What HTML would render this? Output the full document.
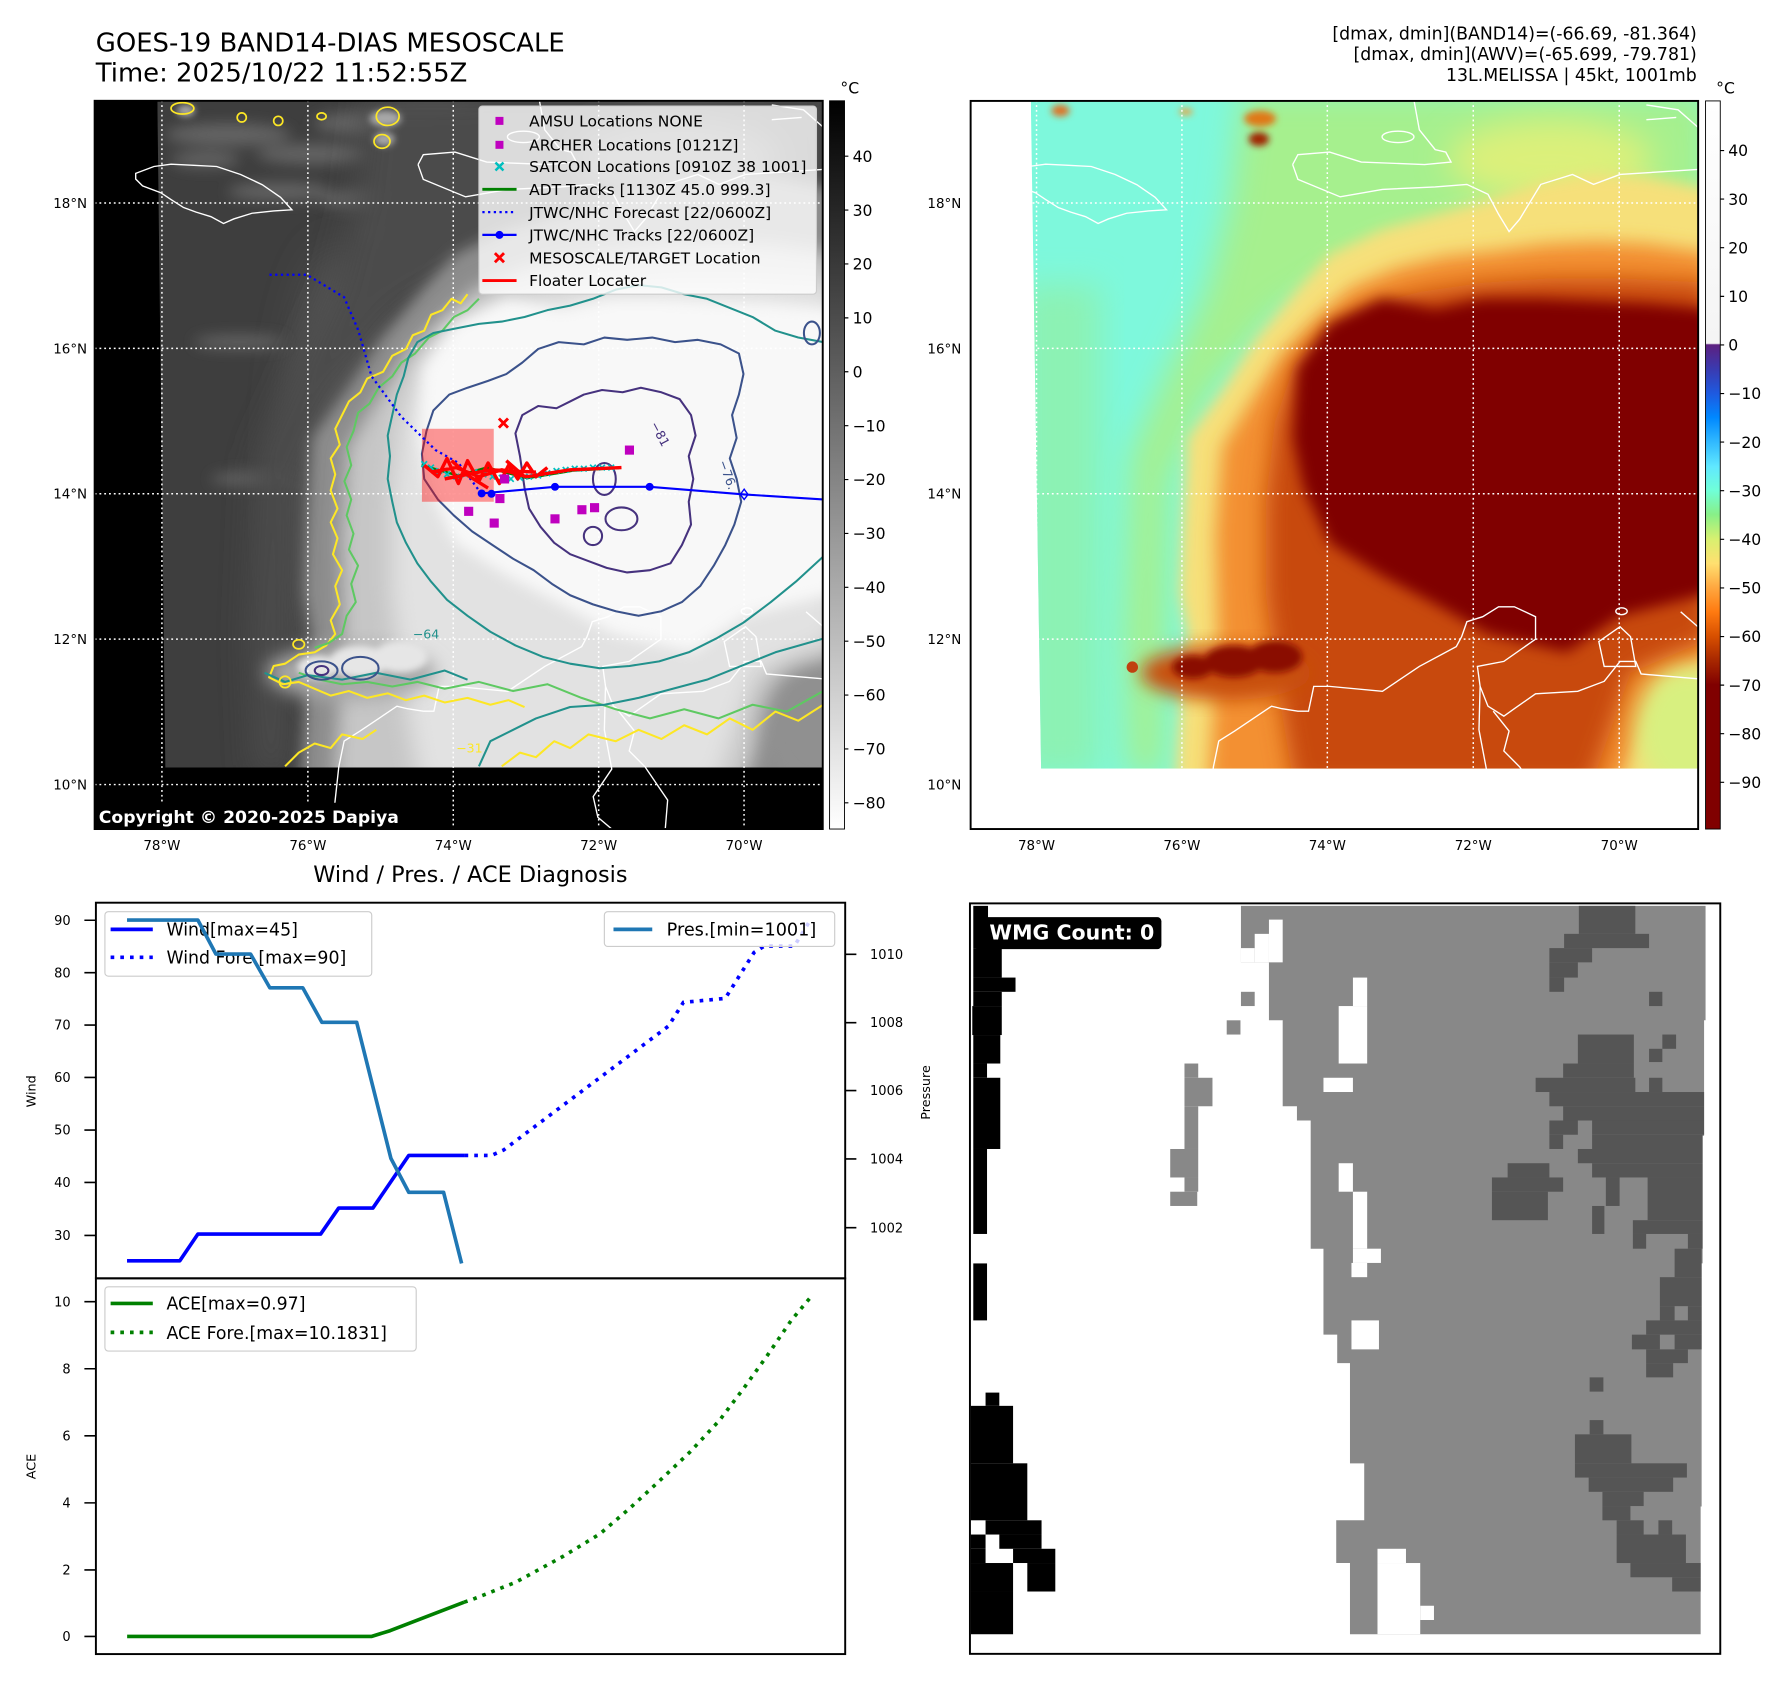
<!DOCTYPE html>
<html><head><meta charset="utf-8"><style>html,body{margin:0;padding:0;background:#fff;overflow:hidden;}svg{display:block;}</style></head>
<body>
<svg xmlns="http://www.w3.org/2000/svg" width="1788" height="1690" viewBox="0 0 1568 1482" preserveAspectRatio="none" font-family="'DejaVu Sans','Liberation Sans',sans-serif">
<defs>
<clipPath id="cl"><rect x="83" y="88.4" width="638.5" height="638.6"/></clipPath>
<clipPath id="cr"><rect x="851.2" y="88.5" width="638" height="638.5"/></clipPath>
<clipPath id="dl"><polygon points="138,88.4 721.5,88.4 721.5,673 145,673"/></clipPath>
<clipPath id="dr"><polygon points="904,88.5 1489.2,88.5 1489.2,674 913,674"/></clipPath>
<filter id="f3" x="-30%" y="-30%" width="160%" height="160%"><feGaussianBlur stdDeviation="3"/></filter>
<filter id="f6" x="-30%" y="-30%" width="160%" height="160%"><feGaussianBlur stdDeviation="6"/></filter>
<filter id="f8" x="-30%" y="-30%" width="160%" height="160%"><feGaussianBlur stdDeviation="8"/></filter>
<filter id="f10" x="-30%" y="-30%" width="160%" height="160%"><feGaussianBlur stdDeviation="10"/></filter>
<filter id="f14" x="-30%" y="-30%" width="160%" height="160%"><feGaussianBlur stdDeviation="14"/></filter>
<filter id="f20" x="-50%" y="-50%" width="200%" height="200%"><feGaussianBlur stdDeviation="20"/></filter>
<linearGradient id="cbl" x1="0" y1="0" x2="0" y2="1"><stop offset="0" stop-color="#000"/><stop offset="1" stop-color="#fff"/></linearGradient>
<linearGradient id="cbr" x1="0" y1="0" x2="0" y2="1">
<stop offset="0" stop-color="#ffffff"/><stop offset="0.333" stop-color="#f4f4f4"/>
<stop offset="0.335" stop-color="#5c2080"/><stop offset="0.368" stop-color="#3a3ab0"/>
<stop offset="0.402" stop-color="#1e5ae0"/><stop offset="0.435" stop-color="#0088ff"/>
<stop offset="0.468" stop-color="#30b8ff"/><stop offset="0.502" stop-color="#60e8ff"/>
<stop offset="0.535" stop-color="#70ffd8"/><stop offset="0.568" stop-color="#88f088"/>
<stop offset="0.602" stop-color="#d8f070"/><stop offset="0.635" stop-color="#ffe070"/>
<stop offset="0.668" stop-color="#ffa840"/><stop offset="0.702" stop-color="#ff7a10"/>
<stop offset="0.735" stop-color="#d85000"/><stop offset="0.768" stop-color="#a82800"/>
<stop offset="0.802" stop-color="#800000"/><stop offset="1" stop-color="#800000"/>
</linearGradient>
</defs>

<!-- Titles -->
<text x="84" y="45.3" font-size="22.7" fill="#000">GOES-19 BAND14-DIAS MESOSCALE</text>
<text x="84" y="71.6" font-size="22.7" fill="#000">Time: 2025/10/22 11:52:55Z</text>
<g font-size="15.2" fill="#000" text-anchor="end">
<text x="1488" y="34.5">[dmax, dmin](BAND14)=(-66.69, -81.364)</text>
<text x="1488" y="52.6">[dmax, dmin](AWV)=(-65.699, -79.781)</text>
<text x="1488" y="71">13L.MELISSA | 45kt, 1001mb</text>
</g>

<!-- ============ LEFT PANEL ============ -->
<g clip-path="url(#cl)">
<rect x="83" y="88.4" width="638.5" height="638.6" fill="#000"/>
<g clip-path="url(#dl)">
<rect x="130" y="80" width="600" height="600" fill="#3e3e3e"/>
<ellipse cx="300" cy="420" rx="45" ry="200" fill="#5a5a5a" filter="url(#f20)"/>
<g fill="#646464" filter="url(#f6)">
<ellipse cx="200" cy="118" rx="55" ry="10"/><ellipse cx="275" cy="135" rx="50" ry="9"/>
<ellipse cx="330" cy="108" rx="55" ry="11"/><ellipse cx="380" cy="100" rx="40" ry="8"/>
<ellipse cx="245" cy="168" rx="45" ry="8"/><ellipse cx="330" cy="175" rx="50" ry="9"/>
<ellipse cx="360" cy="205" rx="40" ry="10"/><ellipse cx="180" cy="140" rx="30" ry="7"/>
<ellipse cx="210" cy="300" rx="40" ry="6"/><ellipse cx="220" cy="420" rx="35" ry="6"/>
</g>
<g transform="translate(-767,0)">
<path d="M1090,80 L1500,80 L1500,205 L1300,200 L1200,228 L1120,275 L1060,345 L1025,420 L1020,680 L990,680 L985,560 L992,400 L1025,325 L1058,255 L1078,180 Z" fill="#4c4c4c" filter="url(#f14)"/>
<ellipse cx="1360" cy="140" rx="90" ry="35" fill="#767676" filter="url(#f14)"/>
<path d="M1030,690 L1036,600 L1041,558 L1034,520 L1036,471 L1041,384 L1073,340 L1101,297 L1138,253 L1166,223 L1212,201 L1259,188 L1305,175 L1351,160 L1397,152 L1444,155 L1500,166 L1500,690 Z" fill="#8c8c8c" filter="url(#f6)"/>
<path d="M1060,690 L1068,560 L1066,470 L1072,392 L1098,350 L1124,310 L1155,278 L1185,252 L1225,235 L1266,225 L1312,220 L1356,214 L1400,212 L1444,214 L1500,222 L1500,575 L1458,598 L1418,690 Z" fill="#c6c6c6" filter="url(#f8)"/>
<path d="M1135,690 L1120,600 L1110,520 L1110,440 L1118,370 L1135,320 L1162,290 L1200,268 L1245,256 L1300,248 L1360,244 L1420,244 L1500,248 L1500,560 L1430,590 L1395,690 Z" fill="#e2e2e2" filter="url(#f10)"/>
<path d="M1138,323 L1166,284 L1212,262 L1259,271 L1300,262 L1351,262 L1444,266 L1500,271 L1500,520 L1421,540 L1374,572 L1305,556 L1259,530 L1212,505 L1166,476 L1143,428 L1134,384 Z" fill="#f8f8f8" filter="url(#f6)"/>
<ellipse cx="1075" cy="590" rx="75" ry="24" fill="#a8a8a8" filter="url(#f8)"/>
<g fill="#e6e6e6" filter="url(#f3)">
<ellipse cx="1046" cy="585" rx="18" ry="10"/><ellipse cx="1082" cy="580" rx="26" ry="14"/><ellipse cx="1118" cy="576" rx="24" ry="14"/>
</g>
<ellipse cx="1480" cy="640" rx="45" ry="55" fill="#909090" filter="url(#f10)"/>
<g fill="#a8a8a8" filter="url(#f3)">
<ellipse cx="1105" cy="104" rx="14" ry="7"/><ellipse cx="1104" cy="122" rx="9" ry="6"/><ellipse cx="930" cy="97" rx="8" ry="5"/>
</g>
</g>
</g>
<!-- gridlines -->
<g stroke="#fff" stroke-width="1.3" stroke-dasharray="1.6 2.6" fill="none">
<path d="M142,88 V727 M270,88 V727 M397.5,88 V727 M525,88 V727 M652.5,88 V727"/>
<path d="M83,178 H722 M83,305.5 H722 M83,433 H722 M83,560.5 H722 M83,688 H722"/>
</g>
<!-- coastlines -->
<g stroke="#fff" stroke-width="1.2" fill="none">
<path d="M119,152 L135,146 L150,144 L170,145 L190,146 L211,153 L230,162 L246,173 L256,184 L240,185 L221,187 L205,192 L196,196 L185,190 L172,186 L161,182 L150,175 L141,169 L125,163 L119,157 Z"/>
<path d="M366.6,144.3 L371.2,135.6 L399,133.4 L426.8,142.1 L482.3,144.3 L505.5,142.1 L500.9,133.4 L491.6,131.2 L477.7,113.8 L473,88"/>
<path d="M366.6,144.3 L371.2,157.3 L408.3,172.6 L445.3,166.1 L491.6,163.9 L519.4,161.7 L537.9,170.4 L547.2,187.9 L556.4,203.1 L565.7,192.2 L584.2,161.7 L612,153 L630.5,161.7 L653.7,153 L722,148.6"/>
<ellipse cx="459" cy="120" rx="14" ry="5"/>
<path d="M676.8,92 L704.6,96.3 L722,111.6 M676.8,105 L703,103"/>
<path d="M722,595.3 L672.2,591 L667.5,580 L653.7,580 L639.8,597.5 L616.6,606.2 L579.6,608.4 L561,621.5 L551.8,628 L537.9,619.3 L531,601.9 L528.6,584.4 L551.8,580 L579.6,560.5 L579.6,540.8 L561,532.1 L547.2,532.1 L533.3,540.8 L519.4,545.2 L514.8,558.3 L510.1,567 L477.7,584.4 L445.3,606.2 L399,601.9 L385.1,601.9 L380.5,623.7 L371.2,623.7 L357.3,621.5 L348.1,619.3 L315.7,641.1 L301.8,649.8 L297.1,672.5 L293.6,704.6"/>
<path d="M542.5,623.7 L556.4,641.1 L551.8,658.5 L565.7,672.5 L585.5,701.6 L583.4,727"/>
<path d="M531,601.9 L530,640 L536.5,674.4 L520.2,698.6 L524.3,716.7 L536.5,727"/>
<path d="M653.7,549.6 L635.1,562.6 L639.8,584.4 L667.5,584.4 L662.9,558.3 Z"/>
<ellipse cx="655" cy="536" rx="5" ry="3"/>
<path d="M706.9,536.5 L722,549.6"/>
</g>
<!-- contours -->
<g fill="none" stroke-width="1.8" stroke-linejoin="round">
<path stroke="#fde725" d="M410,258 L404,266 L396,262 L388,272 L378,276 L372,290 L362,294 L356,306 L344,312 L336,326 L322,332 L316,344 L306,352 L300,364 L294,376 L298,390 L290,402 L294,416 L290,430 L296,446 L290,458 L296,472 L292,486 L300,500 L294,514 L298,530 L290,544 L294,556 L286,566 L276,572 L262,574 L250,582 L240,584 L236,594 L248,600 L262,598 L276,604 L290,610 L306,606 L322,612 L340,608 L356,614 L372,610 L390,616 L410,612 L430,618 L446,614 L460,620"/>
<path stroke="#fde725" d="M250,672 L262,660 L276,652 L290,656 L300,644 L318,648 L330,640 M440,672 L456,660 L470,664 L486,650 L500,656 L516,644 L540,650 L560,640 L580,648 L600,636 L620,644 L640,630 L660,640 L680,624 L700,632 L722,618"/>
<path stroke="#5ec962" d="M420,262 L410,272 L398,278 L388,290 L376,296 L364,310 L352,318 L344,330 L332,340 L324,354 L314,362 L310,378 L304,392 L308,408 L302,422 L308,438 L304,452 L310,468 L306,482 L314,496 L308,512 L312,528 L304,540 L300,556 L288,564 L276,568 M262,590 L280,596 L300,600 L322,598 L344,602 L366,598 L390,604 L420,598 L450,606 L480,600 L510,612 L540,622 L570,630 L600,622 L630,630 L660,618 L690,624 L722,606"/>
<path stroke="#21918c" d="M722,300 L700,296 L680,290 L660,278 L640,270 L620,262 L600,258 L580,252 L560,250 L540,254 L520,262 L500,268 L480,272 L460,278 L440,282 L420,284 L400,288 L380,292 L366,300 L358,314 L354,330 L348,346 L344,364 L340,382 L342,400 L340,420 L344,440 L348,458 L356,476 L366,494 L378,510 L392,526 L410,540 L430,554 L452,566 L476,576 L500,582 L526,586 L552,584 L578,580 L604,572 L628,560 L652,546 L676,528 L698,510 L722,488"/>
<path stroke="#21918c" d="M420,672 L430,650 L450,640 L470,630 L500,620 L530,618 L560,612 L590,604 L620,596 L650,584 L680,572 L722,560 M232,590 L250,598 L270,592 L300,596 L330,590 L360,596 L390,588 L410,596"/>
<path stroke="#3b528b" d="M372,420 L370,398 L374,378 L380,360 L394,346 L410,340 L428,334 L444,328 L458,318 L472,306 L490,300 L512,302 L530,296 L550,298 L572,296 L592,300 L612,298 L632,302 L648,310 L652,328 L648,346 L642,364 L646,384 L640,402 L646,420 L650,440 L644,460 L636,478 L626,496 L614,514 L598,528 L580,536 L560,540 L540,536 L520,530 L500,522 L484,512 L468,500 L450,490 L432,478 L414,466 L398,452 L384,438 Z"/>
<path stroke="#46327e" d="M456,400 L452,380 L458,364 L472,356 L488,358 L500,352 L512,346 L528,342 L546,344 L562,340 L580,344 L596,350 L606,364 L610,382 L604,400 L608,420 L604,440 L606,460 L598,478 L588,494 L570,500 L550,502 L532,498 L516,492 L500,486 L486,476 L474,462 L464,446 L460,428 Z"/>
<ellipse stroke="#46327e" cx="530" cy="420" rx="10" ry="14"/><ellipse stroke="#46327e" cx="545" cy="455" rx="14" ry="10"/><ellipse stroke="#46327e" cx="520" cy="470" rx="8" ry="8"/>
<ellipse stroke="#3b528b" cx="282" cy="588" rx="14" ry="8"/><ellipse stroke="#3b528b" cx="316" cy="586" rx="16" ry="10"/><ellipse stroke="#46327e" cx="282" cy="588" rx="6" ry="4"/>
<ellipse stroke="#3b528b" cx="712" cy="292" rx="7" ry="10"/>
<g stroke="#fde725" stroke-width="1.5"><ellipse cx="160" cy="95" rx="10" ry="5"/><ellipse cx="212" cy="103" rx="4" ry="4"/><ellipse cx="244" cy="106" rx="4" ry="4"/><ellipse cx="340" cy="102" rx="10" ry="8"/><ellipse cx="335" cy="124" rx="7" ry="6"/><ellipse cx="282" cy="102" rx="4" ry="3"/><ellipse cx="262" cy="565" rx="5" ry="4"/><ellipse cx="250" cy="598" rx="5" ry="5"/></g>
</g>
<g font-size="11">
<text x="570" y="372" fill="#46327e" transform="rotate(62 570 372)">−81</text>
<text x="630" y="405" fill="#3b528b" transform="rotate(70 630 405)">−76.</text>
<text x="362" y="560" fill="#21918c">−64</text>
<text x="400" y="660" fill="#fde725">−31</text>
</g>
<!-- red box + tracks -->
<rect x="370" y="376" width="63" height="64" fill="#ff0000" fill-opacity="0.4"/>
<path d="M236.3,240.9 L269,240.9 L301.7,260.6 L314.2,289.6 L325.8,329.9 L352,365.6 L382,394.7 L402,405.9 L422,432.7" fill="none" stroke="#0000ff" stroke-width="2" stroke-dasharray="2 3"/>
<path d="M422.4,432.7 L486.7,426.9 L569.7,426.9 L652.6,433.6 L722,438" fill="none" stroke="#0000ff" stroke-width="1.8"/>
<g fill="#0000ff"><circle cx="422.4" cy="432.7" r="3.5"/><circle cx="431" cy="433" r="3.5"/><circle cx="486.7" cy="426.9" r="3.5"/><circle cx="569.7" cy="426.9" r="3.5"/></g>
<path d="M652.6,429 L656,433.6 L652.6,438 L649.2,433.6 Z" fill="none" stroke="#0000ff" stroke-width="1.2"/>
<path d="M369.6,408 L402,417 L427,410 L462.6,419.3 L502.8,412.6 L543,410.4" fill="none" stroke="#008000" stroke-width="2.2"/>
<path d="M369.5,404.5l5,5m0,-5l-5,5 M375.5,407.5l5,5m0,-5l-5,5 M382.5,410.5l5,5m0,-5l-5,5 M389.5,413.5l5,5m0,-5l-5,5 M397.5,415.5l5,5m0,-5l-5,5 M405.5,413.5l5,5m0,-5l-5,5 M413.5,411.5l5,5m0,-5l-5,5 M421.5,413.5l5,5m0,-5l-5,5 M429.5,415.5l5,5m0,-5l-5,5 M437.5,416.5l5,5m0,-5l-5,5 M445.5,417.5l5,5m0,-5l-5,5 M453.5,416.5l5,5m0,-5l-5,5 M461.5,415.5l5,5m0,-5l-5,5 M469.5,414.5l5,5m0,-5l-5,5 M477.5,412.5l5,5m0,-5l-5,5 M485.5,410.5l5,5m0,-5l-5,5 M493.5,409.5l5,5m0,-5l-5,5 M501.5,408.5l5,5m0,-5l-5,5 M509.5,408.5l5,5m0,-5l-5,5 M517.5,407.5l5,5m0,-5l-5,5 M525.5,407.5l5,5m0,-5l-5,5 M533.5,407.5l5,5m0,-5l-5,5" stroke="#00bfbf" stroke-width="1.5" fill="none"/>
<path d="M372,408 L384,418 L392,402 L402,424 L410,404 L420,422 L428,406 L438,424 L446,408 L454,420 L462,406 L470,418 L480,410 M378,414 L400,410 L420,418 L440,412 L462,418 L500,412 L545,410 M396,404 L412,418 L428,428 M444,404 L460,418 M390,420 L430,412 L470,414" fill="none" stroke="#ff0000" stroke-width="3" stroke-linejoin="round"/>
<path d="M437.5,367 l8,8 m0,-8 l-8,8" stroke="#ff0000" stroke-width="2.5"/>
<g fill="#bf00bf"><rect x="407" y="444.4" width="8" height="8"/><rect x="429.4" y="454.7" width="8" height="8"/><rect x="434.4" y="433.2" width="8" height="8"/><rect x="438.5" y="416" width="8" height="8"/><rect x="482.7" y="451" width="8" height="8"/><rect x="506.3" y="443" width="8" height="8"/><rect x="517.4" y="441.2" width="8" height="8"/><rect x="548" y="390.7" width="8" height="8"/></g>
</g>
<rect x="83" y="88.4" width="638.5" height="638.6" fill="none" stroke="#000" stroke-width="1.7"/>
<!-- legend left -->
<rect x="420" y="93" width="296" height="165" rx="3" fill="#fff" fill-opacity="0.8" stroke="#cccccc" stroke-width="1"/>
<rect x="434.5" y="102.5" width="7" height="7" fill="#bf00bf"/>
<rect x="434.5" y="123.5" width="7" height="7" fill="#bf00bf"/>
<path d="M434.5,142.5 l7,7 m0,-7 l-7,7" stroke="#00bfbf" stroke-width="2.2"/>
<path d="M423,166 H453" stroke="#008000" stroke-width="2.5"/>
<path d="M423,186 H453" stroke="#0000ff" stroke-width="2" stroke-dasharray="2 3"/>
<path d="M423,206 H453" stroke="#0000ff" stroke-width="2"/><circle cx="438" cy="206" r="3.5" fill="#0000ff"/>
<path d="M434,222 l8,8 m0,-8 l-8,8" stroke="#ff0000" stroke-width="2.5"/>
<path d="M423,246 H453" stroke="#ff0000" stroke-width="2.5"/>
<g font-size="13.6" fill="#000">
<text x="464" y="111">AMSU Locations NONE</text>
<text x="464" y="132">ARCHER Locations [0121Z]</text>
<text x="464" y="151">SATCON Locations [0910Z 38 1001]</text>
<text x="464" y="171">ADT Tracks [1130Z 45.0 999.3]</text>
<text x="464" y="191">JTWC/NHC Forecast [22/0600Z]</text>
<text x="464" y="211">JTWC/NHC Tracks [22/0600Z]</text>
<text x="464" y="231">MESOSCALE/TARGET Location</text>
<text x="464" y="251">Floater Locater</text>
</g>
<rect x="83" y="704" width="273" height="23" rx="3" fill="#000"/>
<text x="86.6" y="721.5" font-size="15.1" font-weight="bold" fill="#fff">Copyright © 2020-2025 Dapiya</text>
<!-- left colorbar -->
<rect x="727.5" y="88.4" width="13.1" height="638.6" fill="url(#cbl)" stroke="#000" stroke-width="0.8"/>
<text x="737" y="82" font-size="13.7">°C</text>
<g stroke="#000" stroke-width="1"><path d="M740.6,137H744 M740.6,184.25H744 M740.6,231.5H744 M740.6,278.75H744 M740.6,326H744 M740.6,373.25H744 M740.6,420.5H744 M740.6,467.75H744 M740.6,515H744 M740.6,562.25H744 M740.6,609.5H744 M740.6,656.75H744 M740.6,704H744"/></g>
<g font-size="13.7" fill="#000">
<text x="747.7" y="142">40</text><text x="747.7" y="189.2">30</text><text x="747.7" y="236.5">20</text><text x="747.7" y="283.7">10</text><text x="747.7" y="331">0</text><text x="747.7" y="378.2">−10</text><text x="747.7" y="425.5">−20</text><text x="747.7" y="472.7">−30</text><text x="747.7" y="520">−40</text><text x="747.7" y="567.2">−50</text><text x="747.7" y="614.5">−60</text><text x="747.7" y="661.7">−70</text><text x="747.7" y="709">−80</text>
</g>
<g font-size="11.8" fill="#000" text-anchor="end">
<text x="76.4" y="182.3">18°N</text><text x="76.4" y="309.8">16°N</text><text x="76.4" y="437.3">14°N</text><text x="76.4" y="564.8">12°N</text><text x="76.4" y="692.3">10°N</text>
<text x="843" y="182.3">18°N</text><text x="843" y="309.8">16°N</text><text x="843" y="437.3">14°N</text><text x="843" y="564.8">12°N</text><text x="843" y="692.3">10°N</text>
</g>
<g font-size="11.8" fill="#000" text-anchor="middle">
<text x="142" y="745.5">78°W</text><text x="270" y="745.5">76°W</text><text x="397.5" y="745.5">74°W</text><text x="525" y="745.5">72°W</text><text x="652.5" y="745.5">70°W</text>
<text x="909" y="745.5">78°W</text><text x="1036.5" y="745.5">76°W</text><text x="1164" y="745.5">74°W</text><text x="1292" y="745.5">72°W</text><text x="1420" y="745.5">70°W</text>
</g>

<!-- ============ RIGHT PANEL ============ -->
<g clip-path="url(#cr)">
<rect x="851.2" y="88.5" width="638" height="638.5" fill="#fff"/>
<g clip-path="url(#dr)">
<rect x="900" y="80" width="600" height="600" fill="#7ef8dc"/>
<rect x="895" y="250" width="70" height="430" fill="#8cf2b4" filter="url(#f14)"/>
<path d="M1090,80 L1500,80 L1500,205 L1300,200 L1200,228 L1120,275 L1060,345 L1025,420 L1020,680 L990,680 L985,560 L992,400 L1025,325 L1058,255 L1078,180 Z" fill="#a6f08e" filter="url(#f14)"/>
<ellipse cx="1360" cy="140" rx="90" ry="35" fill="#dcf07a" filter="url(#f14)"/>
<path d="M1030,690 L1036,600 L1041,558 L1034,520 L1036,471 L1041,384 L1073,340 L1101,297 L1138,253 L1166,223 L1212,201 L1259,188 L1305,175 L1351,160 L1397,152 L1444,155 L1500,166 L1500,690 Z" fill="#f6e07a" filter="url(#f6)"/>
<path d="M1060,690 L1068,560 L1066,470 L1072,392 L1098,350 L1124,310 L1155,278 L1185,252 L1225,235 L1266,225 L1312,220 L1356,214 L1400,212 L1444,214 L1500,222 L1500,575 L1458,598 L1418,690 Z" fill="#f39030" filter="url(#f8)"/>
<path d="M1135,690 L1120,600 L1110,520 L1110,440 L1118,370 L1135,320 L1162,290 L1200,268 L1245,256 L1300,248 L1360,244 L1420,244 L1500,248 L1500,560 L1430,590 L1395,690 Z" fill="#c84a0a" filter="url(#f10)"/>
<path d="M1138,323 L1166,284 L1212,262 L1259,271 L1300,262 L1351,262 L1444,266 L1500,271 L1500,520 L1421,540 L1374,572 L1305,556 L1259,530 L1212,505 L1166,476 L1143,428 L1134,384 Z" fill="#800000" filter="url(#f6)"/>
<ellipse cx="1075" cy="590" rx="75" ry="24" fill="#c85010" filter="url(#f8)"/>
<g fill="#8a0a00" filter="url(#f3)">
<ellipse cx="1046" cy="585" rx="18" ry="10"/><ellipse cx="1082" cy="580" rx="26" ry="14"/><ellipse cx="1118" cy="576" rx="24" ry="14"/>
</g>
<circle cx="993" cy="585" r="5" fill="#c04010"/>
<ellipse cx="1480" cy="640" rx="45" ry="55" fill="#d8f080" filter="url(#f10)"/>
<g filter="url(#f3)"><ellipse cx="1105" cy="104" rx="14" ry="7" fill="#e07818"/><ellipse cx="1104" cy="122" rx="9" ry="6" fill="#a02000"/><ellipse cx="930" cy="97" rx="8" ry="5" fill="#e07020"/><ellipse cx="1040" cy="98" rx="6" ry="3" fill="#f0a040"/></g>
</g>
<g stroke="#fff" stroke-width="1.3" stroke-dasharray="1.6 2.6" fill="none">
<path d="M909,88 V727 M1036.5,88 V727 M1164,88 V727 M1292,88 V727 M1420,88 V727"/>
<path d="M851,178 H1490 M851,305.5 H1490 M851,433 H1490 M851,560.5 H1490 M851,688 H1490"/>
</g>
<g transform="translate(767,0)" stroke="#fff" stroke-width="1.2" fill="none">
<path d="M119,152 L135,146 L150,144 L170,145 L190,146 L211,153 L230,162 L246,173 L256,184 L240,185 L221,187 L205,192 L196,196 L185,190 L172,186 L161,182 L150,175 L141,169 L125,163 L119,157 Z"/>
<path d="M366.6,144.3 L371.2,135.6 L399,133.4 L426.8,142.1 L482.3,144.3 L505.5,142.1 L500.9,133.4 L491.6,131.2 L477.7,113.8 L473,88"/>
<path d="M366.6,144.3 L371.2,157.3 L408.3,172.6 L445.3,166.1 L491.6,163.9 L519.4,161.7 L537.9,170.4 L547.2,187.9 L556.4,203.1 L565.7,192.2 L584.2,161.7 L612,153 L630.5,161.7 L653.7,153 L722,148.6"/>
<ellipse cx="459" cy="120" rx="14" ry="5"/>
<path d="M676.8,92 L704.6,96.3 L722,111.6 M676.8,105 L703,103"/>
<path d="M722,595.3 L672.2,591 L667.5,580 L653.7,580 L639.8,597.5 L616.6,606.2 L579.6,608.4 L561,621.5 L551.8,628 L537.9,619.3 L531,601.9 L528.6,584.4 L551.8,580 L579.6,560.5 L579.6,540.8 L561,532.1 L547.2,532.1 L533.3,540.8 L519.4,545.2 L514.8,558.3 L510.1,567 L477.7,584.4 L445.3,606.2 L399,601.9 L385.1,601.9 L380.5,623.7 L371.2,623.7 L357.3,621.5 L348.1,619.3 L315.7,641.1 L301.8,649.8 L297.1,672.5 L293.6,704.6"/>
<path d="M542.5,623.7 L556.4,641.1 L551.8,658.5 L565.7,672.5 L585.5,701.6"/>
<path d="M531,601.9 L530,640 L536.5,674.4"/>
<path d="M653.7,549.6 L635.1,562.6 L639.8,584.4 L667.5,584.4 L662.9,558.3 Z"/>
<ellipse cx="655" cy="536" rx="5" ry="3"/>
<path d="M706.9,536.5 L722,549.6"/>
</g>
</g>
<rect x="851.2" y="88.5" width="638" height="638.5" fill="none" stroke="#000" stroke-width="1.7"/>
<rect x="1495.7" y="88.5" width="12.9" height="638.5" fill="url(#cbr)" stroke="#000" stroke-width="0.8"/>
<text x="1505" y="82" font-size="13.7">°C</text>
<g stroke="#000" stroke-width="1"><path d="M1508.6,132H1512 M1508.6,174.6H1512 M1508.6,217.2H1512 M1508.6,259.9H1512 M1508.6,302.5H1512 M1508.6,345.1H1512 M1508.6,387.7H1512 M1508.6,430.3H1512 M1508.6,472.9H1512 M1508.6,515.6H1512 M1508.6,558.2H1512 M1508.6,600.8H1512 M1508.6,643.4H1512 M1508.6,686H1512"/></g>
<g font-size="13.7" fill="#000">
<text x="1515.6" y="137">40</text><text x="1515.6" y="179.6">30</text><text x="1515.6" y="222.2">20</text><text x="1515.6" y="264.9">10</text><text x="1515.6" y="307.5">0</text><text x="1515.6" y="350.1">−10</text><text x="1515.6" y="392.7">−20</text><text x="1515.6" y="435.3">−30</text><text x="1515.6" y="477.9">−40</text><text x="1515.6" y="520.6">−50</text><text x="1515.6" y="563.2">−60</text><text x="1515.6" y="605.8">−70</text><text x="1515.6" y="648.4">−80</text><text x="1515.6" y="691">−90</text>
</g>

<!-- ============ BOTTOM LEFT ============ -->
<text x="412.5" y="773.5" font-size="19.6" text-anchor="middle">Wind / Pres. / ACE Diagnosis</text>
<path d="M111.4,1105.6 L157.7,1105.6 L173.5,1082.2 L281.2,1082.2 L297,1059.4 L327,1059.4 L358.5,1013.2 L407.4,1013.2" fill="none" stroke="#0000ff" stroke-width="3.2" stroke-linejoin="round"/>
<path d="M407.4,1013.2 L431,1013.2 L441.6,1008.5 L586.2,899.8 L599.3,879 L636,875.5 L661.3,835.2 L670.3,829.6 L696.6,829.6 L709.7,808.3" fill="none" stroke="#0000ff" stroke-width="3.2" stroke-dasharray="3.2 5.3"/>
<rect x="92" y="799.5" width="234" height="56.5" rx="3" fill="#fff" fill-opacity="0.8" stroke="#cccccc"/>
<path d="M97,815 H134" stroke="#0000ff" stroke-width="3.2"/>
<path d="M97,839.5 H134" stroke="#0000ff" stroke-width="3.2" stroke-dasharray="3.2 5.3"/>
<text x="146" y="820.5" font-size="15.2">Wind[max=45]</text>
<text x="146" y="845" font-size="15.2">Wind Fore.[max=90]</text>
<path d="M111.4,806.8 L173.5,806.8 L189.3,836.6 L219.7,836.6 L236.6,866.2 L265.5,866.2 L282.3,896.5 L312.8,896.5 L342.8,1015.8 L358.5,1045.6 L389,1045.6 L404.8,1107.9" fill="none" stroke="#1f77b4" stroke-width="3.2" stroke-linejoin="round"/>
<rect x="530" y="799.5" width="202" height="30.5" rx="3" fill="#fff" fill-opacity="0.8" stroke="#cccccc"/>
<path d="M538,815 H572" stroke="#1f77b4" stroke-width="3.2"/>
<text x="584.6" y="820.5" font-size="15.5">Pres.[min=1001]</text>
<rect x="84.1" y="791.6" width="657.1" height="329.4" fill="none" stroke="#000" stroke-width="1.7"/>
<g stroke="#000" stroke-width="1.4">
<path d="M74,807 H84 M74,853 H84 M74,898.9 H84 M74,944.8 H84 M74,991 H84 M74,1036.9 H84 M74,1083.4 H84"/>
<path d="M741.2,836.9 H751 M741.2,896.8 H751 M741.2,956.3 H751 M741.2,1016.3 H751 M741.2,1076.6 H751"/>
<path d="M74,1141.5 H84 M74,1200.3 H84 M74,1259.1 H84 M74,1317.9 H84 M74,1376.7 H84 M74,1435 H84"/>
</g>
<g font-size="11.4" text-anchor="end">
<text x="62" y="811">90</text><text x="62" y="857">80</text><text x="62" y="903">70</text><text x="62" y="948.8">60</text><text x="62" y="995">50</text><text x="62" y="1041">40</text><text x="62" y="1087.4">30</text>
<text x="62" y="1145.5">10</text><text x="62" y="1204.3">8</text><text x="62" y="1263.1">6</text><text x="62" y="1322">4</text><text x="62" y="1380.7">2</text><text x="62" y="1439">0</text>
</g>
<g font-size="11.4">
<text x="763" y="841">1010</text><text x="763" y="900.8">1008</text><text x="763" y="960.3">1006</text><text x="763" y="1020.3">1004</text><text x="763" y="1080.6">1002</text>
</g>
<text font-size="11.2" transform="translate(31,957) rotate(-90)" text-anchor="middle">Wind</text>
<text font-size="11.2" transform="translate(815.5,958) rotate(-90)" text-anchor="middle">Pressure</text>
<text font-size="11.2" transform="translate(31,1286) rotate(-90)" text-anchor="middle">ACE</text>
<path d="M111.5,1435 L326,1435 L342,1430 L407,1405" fill="none" stroke="#008000" stroke-width="3.2" stroke-linejoin="round"/>
<path d="M407,1405 L415,1402.3 L452,1387.6 L494,1364.7 L526,1345.2 L552,1322.9 L578,1298.9 L605,1273.4 L631,1245.5 L652,1217.7 L673,1188.5 L694,1157.7 L710,1138.6" fill="none" stroke="#008000" stroke-width="3.2" stroke-dasharray="3.2 5.3"/>
<rect x="92" y="1128.4" width="273" height="56.4" rx="3" fill="#fff" fill-opacity="0.8" stroke="#cccccc"/>
<path d="M97,1143 H134" stroke="#008000" stroke-width="3.2"/>
<path d="M97,1168.4 H134" stroke="#008000" stroke-width="3.2" stroke-dasharray="3.2 5.3"/>
<text x="146" y="1148.5" font-size="15.2">ACE[max=0.97]</text>
<text x="146" y="1174" font-size="15.2">ACE Fore.[max=10.1831]</text>
<rect x="84.1" y="1121" width="657.1" height="329.5" fill="none" stroke="#000" stroke-width="1.7"/>

<!-- ============ BOTTOM RIGHT (WMG) ============ -->
<g transform="translate(841.9,784.9) scale(0.4307)">
<rect x="20" y="17" width="1528" height="1528" fill="#fff"/>
<path fill="#888888" d="M572,22 H1518 V255 H1515 V490 H1512 V750 H1510 V1245 H1508 V1505 H794 V1360 H766 V1273 H823 V1157 H794 V953 H768 V895 H740 V720 H714 V459 H686 V430 H657 V255 H629 V137 H572 Z"/>
<g fill="#888888">
<rect x="572" y="197" width="28" height="29"/><rect x="543" y="255" width="28" height="29"/>
<rect x="457" y="343" width="28" height="29"/><rect x="457" y="372" width="57" height="58"/><rect x="457" y="430" width="28" height="87"/><rect x="428" y="517" width="57" height="58"/><rect x="457" y="575" width="28" height="29"/><rect x="428" y="604" width="55" height="29"/>
</g>
<g fill="#ffffff">
<rect x="629" y="50" width="28" height="87"/><rect x="600" y="79" width="29" height="58"/><rect x="572" y="108" width="28" height="29"/>
<rect x="800" y="168" width="29" height="58"/><rect x="771" y="226" width="58" height="117"/>
<rect x="740" y="372" width="60" height="29"/>
<rect x="771" y="546" width="29" height="58"/><rect x="800" y="604" width="29" height="116"/><rect x="800" y="720" width="57" height="29"/><rect x="797" y="749" width="32" height="29"/>
<rect x="797" y="866" width="56" height="59"/>
<rect x="850" y="1331" width="58" height="29"/><rect x="850" y="1360" width="87" height="145"/><rect x="937" y="1447" width="28" height="29"/>
</g>
<g fill="#555555">
<rect x="1260" y="22" width="115" height="57"/><rect x="1230" y="79" width="173" height="29"/><rect x="1200" y="108" width="87" height="29"/><rect x="1200" y="137" width="58" height="31"/><rect x="1200" y="168" width="30" height="29"/>
<rect x="1403" y="197" width="27" height="29"/>
<rect x="1430" y="284" width="28" height="29"/><rect x="1403" y="313" width="27" height="27"/>
<rect x="1258" y="284" width="114" height="59"/><rect x="1228" y="343" width="144" height="29"/><rect x="1172" y="372" width="203" height="29"/><rect x="1403" y="372" width="27" height="29"/>
<rect x="1200" y="401" width="315" height="29"/><rect x="1228" y="430" width="287" height="29"/>
<rect x="1200" y="459" width="58" height="29"/><rect x="1287" y="459" width="228" height="29"/>
<rect x="1200" y="488" width="28" height="29"/><rect x="1287" y="488" width="225" height="29"/>
<rect x="1258" y="517" width="254" height="29"/><rect x="1287" y="546" width="225" height="29"/>
<rect x="1115" y="546" width="85" height="29"/><rect x="1083" y="575" width="145" height="29"/><rect x="1083" y="604" width="114" height="58"/>
<rect x="1315" y="575" width="28" height="58"/><rect x="1400" y="575" width="112" height="87"/><rect x="1287" y="633" width="25" height="57"/><rect x="1370" y="662" width="142" height="28"/>
<rect x="1370" y="690" width="27" height="30"/><rect x="1482" y="690" width="30" height="30"/>
<rect x="1455" y="720" width="55" height="58"/><rect x="1425" y="778" width="85" height="59"/><rect x="1425" y="837" width="30" height="29"/><rect x="1482" y="837" width="28" height="29"/>
<rect x="1397" y="866" width="113" height="29"/><rect x="1368" y="895" width="57" height="30"/><rect x="1455" y="895" width="55" height="30"/><rect x="1397" y="925" width="85" height="28"/><rect x="1397" y="953" width="55" height="29"/>
<rect x="1282" y="982" width="28" height="29"/>
<rect x="1282" y="1069" width="28" height="29"/><rect x="1252" y="1098" width="115" height="59"/><rect x="1252" y="1157" width="228" height="29"/><rect x="1280" y="1186" width="172" height="29"/><rect x="1308" y="1215" width="84" height="29"/><rect x="1308" y="1244" width="57" height="29"/>
<rect x="1337" y="1273" width="55" height="29"/><rect x="1422" y="1273" width="28" height="29"/>
<rect x="1337" y="1302" width="141" height="58"/><rect x="1365" y="1360" width="143" height="29"/><rect x="1450" y="1389" width="58" height="29"/>
</g>
<g fill="#000000">
<rect x="27" y="22" width="30" height="86"/><rect x="27" y="108" width="58" height="60"/><rect x="27" y="168" width="86" height="29"/><rect x="27" y="197" width="58" height="29"/><rect x="25" y="226" width="60" height="59"/><rect x="27" y="285" width="55" height="58"/><rect x="27" y="343" width="28" height="29"/><rect x="27" y="372" width="55" height="145"/><rect x="27" y="517" width="28" height="173"/>
<rect x="27" y="750" width="28" height="116"/>
<rect x="52" y="1013" width="28" height="27"/><rect x="22" y="1040" width="86" height="117"/><rect x="22" y="1157" width="115" height="116"/>
<rect x="52" y="1273" width="114" height="29"/><rect x="22" y="1302" width="30" height="29"/><rect x="80" y="1302" width="86" height="29"/>
<rect x="22" y="1331" width="30" height="29"/><rect x="108" y="1331" width="86" height="29"/>
<rect x="22" y="1360" width="86" height="58"/><rect x="137" y="1360" width="57" height="58"/>
<rect x="22" y="1418" width="86" height="87"/>
</g>
</g>
<rect x="850.6" y="792.2" width="658" height="658.1" fill="none" stroke="#000" stroke-width="1.7"/>
<rect x="854.8" y="804.3" width="163.7" height="28" rx="3.5" fill="#000"/>
<text x="867.7" y="823.7" font-size="18" font-weight="bold" fill="#fff">WMG Count: 0</text>
</svg>
</body></html>
